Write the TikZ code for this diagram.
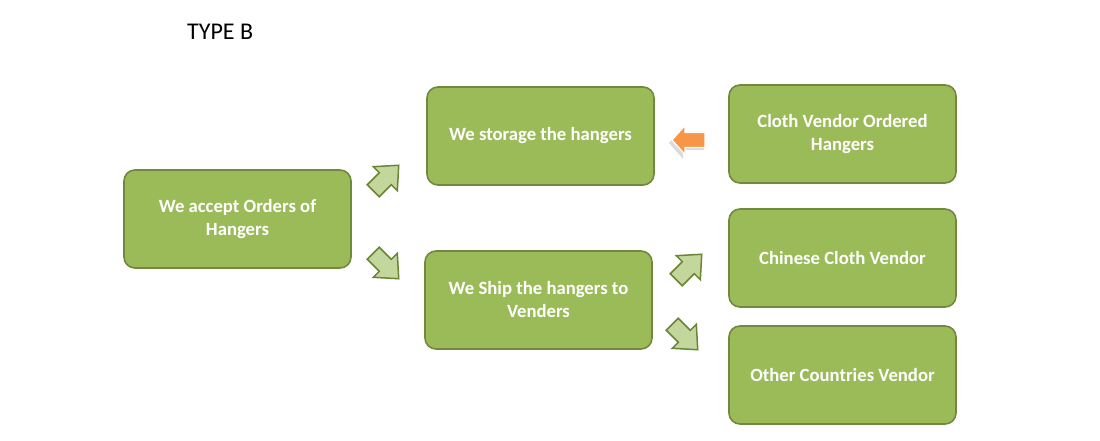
\documentclass[tikz,border=0pt]{standalone}
\usepackage{fontspec}
\setmainfont{Carlito}
\definecolor{boxfill}{HTML}{9BBB59}
\definecolor{boxline}{HTML}{71893F}
\definecolor{arrfill}{HTML}{C3D69B}
\definecolor{arrline}{HTML}{6A8536}
\definecolor{orng}{HTML}{F79646}
\tikzset{
  stepbox/.style={draw=boxline, line width=1.6pt, fill=boxfill, rounded corners=11pt,
    minimum width=227pt, minimum height=98pt, inner sep=0pt, align=center,
    text=white, font=\fontsize{18.7}{23}\selectfont\bfseries},
  garrow/.pic={\draw[draw=arrline, fill=arrfill, line width=1.5pt, line join=miter]
    (-18,-8.5) -- (-1,-8.5) -- (-1,-17) -- (18,0) -- (-1,17) -- (-1,8.5) -- (-18,8.5) -- cycle;},
  oarrow/.pic={
    \fill[black!14] (-20,-3) -- (-6,-19) -- (-6,-10) -- (15,-10) -- (15,5) -- (-6,5) -- (-6,13) -- cycle;
    \draw[draw=white, fill=orng, line width=1.2pt, line join=miter]
    (-17,0) -- (-4,14.5) -- (-4,7.5) -- (16,7.5) -- (16,-7.5) -- (-4,-7.5) -- (-4,-14.5) -- cycle;}
}
\begin{document}
\begin{tikzpicture}[x=1pt,y=1pt]
\useasboundingbox (0,0) rectangle (1100,440);
\fill[white] (0,0) rectangle (1100,440);
\node[anchor=base west, inner sep=0pt, font=\fontsize{24}{28}\selectfont] (title) at (187,400) {TYPE B};
\node[stepbox] (accept) at (237.5,221) {We accept Orders of\\Hangers};
\node[stepbox] (storage) at (540.5,304) {We storage the hangers};
\node[stepbox] (cloth) at (842.5,306) {Cloth Vendor Ordered\\Hangers};
\node[stepbox] (ship) at (538.5,140) {We Ship the hangers to\\Venders};
\node[stepbox] (chinese) at (842.5,182) {Chinese Cloth Vendor};
\node[stepbox] (other) at (842.5,65) {Other Countries Vendor};
\pic[rotate=45] at (386,262) {garrow};
\pic[rotate=-45] at (386,174) {garrow};
\pic[rotate=45] at (689,173) {garrow};
\pic[rotate=-45] at (685,103) {garrow};
\pic at (689,300) {oarrow};
\end{tikzpicture}
\end{document}
